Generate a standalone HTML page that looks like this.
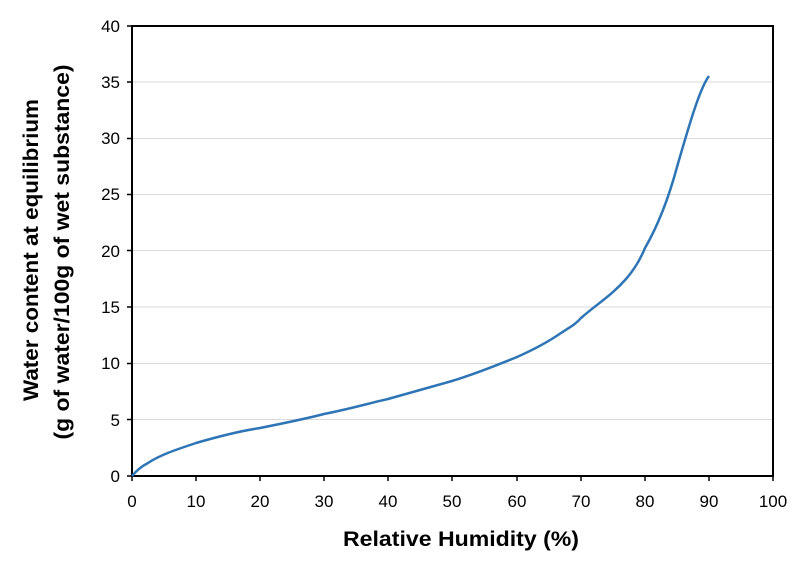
<!DOCTYPE html>
<html><head><meta charset="utf-8"><style>body{margin:0;background:#fff}</style></head><body>
<svg width="799" height="571" xmlns="http://www.w3.org/2000/svg" font-family="Liberation Sans, sans-serif">
<g stroke="#d9d9d9" stroke-width="1">
<line x1="132" y1="419.5" x2="773" y2="419.5"/><line x1="132" y1="363.5" x2="773" y2="363.5"/>
<line x1="132" y1="307" x2="773" y2="307"/><line x1="132" y1="250.5" x2="773" y2="250.5"/>
<line x1="132" y1="194.5" x2="773" y2="194.5"/><line x1="132" y1="138.5" x2="773" y2="138.5"/>
<line x1="132" y1="82" x2="773" y2="82"/>
</g>
<rect x="132" y="26" width="641" height="450" fill="none" stroke="#000" stroke-width="2"/>
<g stroke="#000" stroke-width="1.5">
<line x1="132" y1="476" x2="132" y2="481"/><line x1="196" y1="476" x2="196" y2="481"/><line x1="260" y1="476" x2="260" y2="481"/><line x1="324" y1="476" x2="324" y2="481"/><line x1="388" y1="476" x2="388" y2="481"/><line x1="452" y1="476" x2="452" y2="481"/><line x1="517" y1="476" x2="517" y2="481"/><line x1="581" y1="476" x2="581" y2="481"/><line x1="645" y1="476" x2="645" y2="481"/><line x1="709" y1="476" x2="709" y2="481"/><line x1="773" y1="476" x2="773" y2="481"/>
<line x1="127" y1="476" x2="132" y2="476"/><line x1="127" y1="419.5" x2="132" y2="419.5"/><line x1="127" y1="363.5" x2="132" y2="363.5"/><line x1="127" y1="307" x2="132" y2="307"/><line x1="127" y1="250.5" x2="132" y2="250.5"/><line x1="127" y1="194.5" x2="132" y2="194.5"/><line x1="127" y1="138.5" x2="132" y2="138.5"/><line x1="127" y1="82" x2="132" y2="82"/><line x1="127" y1="26" x2="132" y2="26"/>
</g>
<g font-size="17" fill="#000" text-anchor="middle">
<text x="132" y="507">0</text><text x="196" y="507">10</text><text x="260" y="507">20</text><text x="324" y="507">30</text><text x="388" y="507">40</text><text x="452" y="507">50</text><text x="517" y="507">60</text><text x="581" y="507">70</text><text x="645" y="507">80</text><text x="709" y="507">90</text><text x="773" y="507">100</text>
</g>
<g font-size="17" fill="#000" text-anchor="end">
<text x="120" y="482">0</text><text x="120" y="426">5</text><text x="120" y="369">10</text><text x="120" y="313">15</text><text x="120" y="257">20</text><text x="120" y="200">25</text><text x="120" y="144">30</text><text x="120" y="88">35</text><text x="120" y="32">40</text>
</g>
<text x="461" y="546" font-size="21" font-weight="bold" text-anchor="middle" textLength="236" lengthAdjust="spacingAndGlyphs">Relative Humidity (%)</text>
<text transform="translate(38,250) rotate(-90)" font-size="21" font-weight="bold" text-anchor="middle" textLength="302" lengthAdjust="spacingAndGlyphs">Water content at equilibrium</text>
<text transform="translate(69,252) rotate(-90)" font-size="21" font-weight="bold" text-anchor="middle" textLength="375" lengthAdjust="spacingAndGlyphs">(g of water/100g of wet substance)</text>
<path fill="none" stroke="#2e75b6" stroke-width="2.5" stroke-linejoin="round"
d="M132,476 C137,470 142,466 148,463 C160,455 175,450 196,443 C220,436 240,431 260,428 C290,422 305,419 324,414 C350,409 370,403 388,399 C410,393 430,387 452,381 C475,374 495,366 517,357 C535,349 548,342 561,333 C570,327 576,324 581,318 C597,304 612,295 626,279 C634,270 640,260 645,248 C660,222 670,193 677,167 C690,122 700,88 709,76"/>
</svg>
</body></html>
